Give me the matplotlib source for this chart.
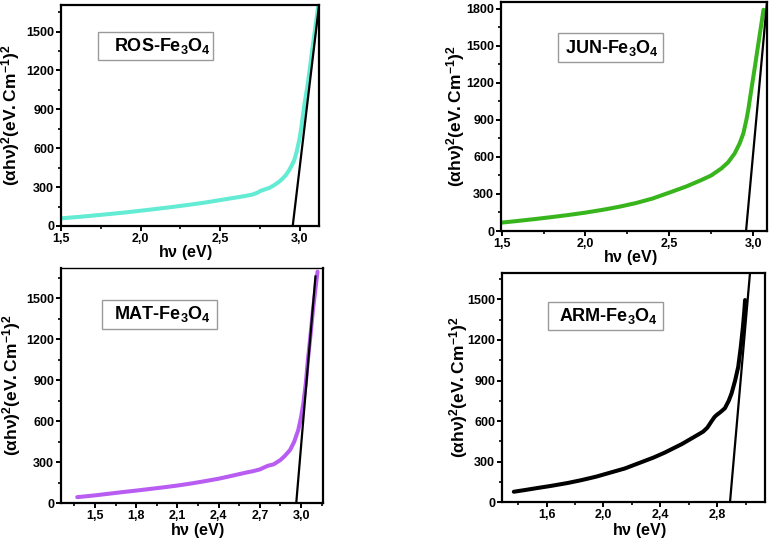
import matplotlib
matplotlib.use('Agg')
import matplotlib.pyplot as plt
from matplotlib.ticker import MultipleLocator, FuncFormatter
from matplotlib.patches import Rectangle

plt.rcParams['font.family'] = ['Liberation Sans', 'DejaVu Sans']
plt.rcParams['font.weight'] = 'bold'
plt.rcParams['mathtext.fontset'] = 'custom'
plt.rcParams['mathtext.rm'] = 'Liberation Sans'
plt.rcParams['mathtext.it'] = 'Liberation Sans:italic'
plt.rcParams['mathtext.bf'] = 'Liberation Sans:bold'

# --- datos (Tauc plots) ---
ros_x = [1.50, 1.60, 1.70, 1.80, 1.90, 2.00, 2.10, 2.20, 2.30, 2.40, 2.50,
         2.58, 2.65, 2.70, 2.73, 2.755, 2.78, 2.81, 2.84, 2.87, 2.89, 2.91,
         2.93, 2.95, 2.965, 2.98, 2.996, 3.008, 3.018, 3.03, 3.04, 3.05,
         3.065, 3.08, 3.098, 3.116]
ros_y = [59, 69, 80, 92, 104, 118, 132, 147, 163, 180, 200,
         216, 230, 242, 255, 272, 282, 295, 316, 342, 364, 390,
         425, 470, 509, 575, 663, 750, 843, 950, 1025, 1100,
         1240, 1383, 1540, 1704]
ros_fit_x = [2.955, 3.12]
ros_fit_y = [0, 1700]

jun_x = [1.50, 1.60, 1.70, 1.80, 1.90, 2.00, 2.10, 2.20, 2.30, 2.40, 2.50,
         2.60, 2.69, 2.75, 2.81, 2.85, 2.89, 2.92, 2.942, 2.96, 2.971, 2.99,
         3.011, 3.025, 3.041, 3.052, 3.062]
jun_y = [68, 82, 97, 113, 130, 149, 171, 196, 226, 263, 311,
         360, 412, 450, 506, 555, 628, 710, 791, 900, 980, 1150,
         1332, 1460, 1603, 1700, 1792]
jun_fit_x = [2.958, 3.083]
jun_fit_y = [0, 1855]

mat_x = [1.37, 1.50, 1.60, 1.70, 1.80, 1.90, 2.00, 2.10, 2.20, 2.30, 2.40,
         2.50, 2.60, 2.65, 2.70, 2.73, 2.76, 2.80, 2.85, 2.88, 2.92, 2.95,
         2.98, 3.00, 3.017, 3.035, 3.05, 3.07, 3.087, 3.105, 3.12]
mat_y = [45, 58, 70, 82, 93, 105, 117, 130, 145, 162, 180,
         202, 225, 235, 248, 262, 275, 285, 317, 345, 390, 450,
         537, 630, 732, 880, 1049, 1240, 1415, 1570, 1695]
mat_fit_x = [2.965, 3.105]
mat_fit_y = [0, 1660]

arm_x = [1.37, 1.45, 1.55, 1.63, 1.75, 1.85, 1.95, 2.03, 2.15, 2.25, 2.35,
         2.43, 2.55, 2.64, 2.70, 2.73, 2.76, 2.78, 2.795, 2.82, 2.853, 2.88,
         2.90, 2.925, 2.947, 2.965, 2.98, 2.99, 2.995]
arm_y = [78, 91, 108, 121, 143, 165, 190, 214, 250, 290, 330,
         367, 430, 485, 522, 552, 600, 630, 645, 665, 695, 750,
         805, 900, 1002, 1150, 1298, 1420, 1495]
arm_fit_x = [2.889, 3.03]
arm_fit_y = [0, 1700]

W, H = 770, 540
fig = plt.figure(figsize=(W / 100, H / 100), dpi=100)


def px_axes(left, top, right, bottom):
    # convierte caja en pixeles a coordenadas de figura
    return fig.add_axes([left / W, 1 - bottom / H, (right - left) / W, (bottom - top) / H])


coma = FuncFormatter(lambda v, p: ('%.1f' % v).replace('.', ','))

ylab = r'$\mathrm{(\alpha h\nu)^2}$$\mathbf{(eV.Cm^{-1})^2}$'


def panel(box, x, y, fx, fy, color, name, xlim, ylim, xmaj,
          label_box, text_pos, ylab_x, xlab_pos):
    ax = px_axes(*box)
    ax.plot(x, y, color=color, lw=2.9, solid_capstyle='round',
            solid_joinstyle='round', zorder=2)
    ax.plot(fx, fy, color='black', lw=1.6, zorder=3)
    ax.set_xlim(*xlim)
    ax.set_ylim(*ylim)
    ax.xaxis.set_major_locator(MultipleLocator(xmaj))
    ax.xaxis.set_minor_locator(MultipleLocator(xmaj / 2))
    ax.xaxis.set_major_formatter(coma)
    ax.yaxis.set_major_locator(MultipleLocator(300))
    ax.yaxis.set_minor_locator(MultipleLocator(150))
    for s in ax.spines.values():
        s.set_linewidth(1.6)
    ax.tick_params(which='major', direction='out', length=3.5, width=1.4,
                   labelsize=9, pad=1.5)
    ax.tick_params(which='minor', direction='out', length=2, width=1.2)
    for lab in ax.get_xticklabels() + ax.get_yticklabels():
        lab.set_fontweight('bold')
    ax.set_xlabel(r'h$\mathbf{\nu}$ (eV)', fontsize=11.5, fontweight='bold')
    ax.xaxis.set_label_coords(*xlab_pos)
    ax.set_ylabel(ylab, fontsize=12.5)
    ax.yaxis.set_label_coords(ylab_x, 0.5)
    x0, y0, x1, y1 = label_box
    ax.add_patch(Rectangle((x0, y0), x1 - x0, y1 - y0, transform=ax.transAxes,
                           fill=False, ec='#9a9a9a', lw=1.0, zorder=4))
    ax.text(text_pos[0], text_pos[1], name + r'$_\mathbf{3}$O$_\mathbf{4}$',
            transform=ax.transAxes, ha='center', va='center',
            fontsize=13, fontweight='bold', zorder=5)
    return ax


panel((61, 4.7, 319, 226), ros_x, ros_y, ros_fit_x, ros_fit_y, '#63EBD3',
      'ROS-Fe', (1.5, 3.12), (0, 1707), 0.5,
      (0.143, 0.75, 0.589, 0.877), (0.393, 0.813), -0.151, (0.48, -0.075))

panel((501, 2, 767, 231), jun_x, jun_y, jun_fit_x, jun_fit_y, '#38B51C',
      'JUN-Fe', (1.496, 3.083), (0, 1855), 0.5,
      (0.213, 0.738, 0.609, 0.865), (0.418, 0.801), -0.128, (0.485, -0.075))

ax3 = panel((61, 268, 323, 503.3), mat_x, mat_y, mat_fit_x, mat_fit_y, '#B85CF2',
            'MAT-Fe', (1.252, 3.16), (0, 1722), 0.3,
            (0.155, 0.740, 0.594, 0.864), (0.388, 0.803), -0.144, (0.52, -0.075))
ax3.spines['top'].set_linewidth(1.0)

panel((502, 272.7, 765, 502.3), arm_x, arm_y, arm_fit_x, arm_fit_y, 'black',
      'ARM-Fe', (1.287, 3.135), (0, 1697), 0.4,
      (0.175, 0.750, 0.612, 0.874), (0.405, 0.812), -0.122, (0.52, -0.08))

fig.savefig('out.png', dpi=100)
